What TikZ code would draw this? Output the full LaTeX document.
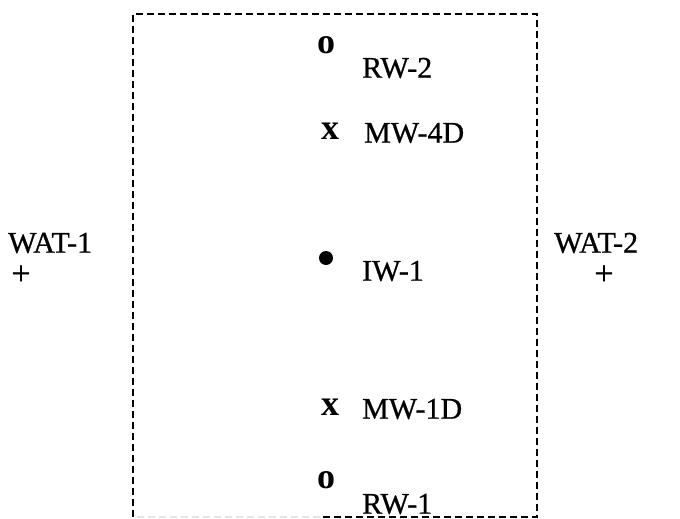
\documentclass[tikz,border=0pt]{standalone}
\usepackage{fontspec}
\setmainfont{Liberation Serif}
\newfontfamily\heavy{Liberation Serif}[FakeBold=0.8]
\begin{document}
\begin{tikzpicture}[x=1pt,y=-1pt,
  lbl/.style={anchor=west,inner sep=0pt,font=\heavy\fontsize{30}{33}\selectfont},
  mk/.style={anchor=center,inner sep=0pt,font=\bfseries\fontsize{36}{40}\selectfont},
  plus/.style={anchor=center,inner sep=0pt,font=\heavy\fontsize{34}{38}\selectfont},
  boxline/.style={line width=2.4pt,dash pattern=on 7pt off 4pt}]
\useasboundingbox (0,0) rectangle (680,519);
\coordinate (bl) at (133,517);
\coordinate (tl) at (133,14);
\coordinate (tr) at (537,14);
\coordinate (br) at (537,517);
\coordinate (bm) at (320,517);
\draw[boxline] (bl) -- (tl) -- (tr) -- (br) -- (bm);
\draw[boxline,black!10] (bm) -- (bl);
% markers
\node[mk] (o2) at (326,45) {o};
\node[mk] (x4) at (330,131) {x};
\fill (326,258) circle (7pt) node (d1) {};
\node[mk] (x1) at (330,407) {x};
\node[mk] (o1) at (326,480) {o};
% labels
\node[lbl] (rw2) at (362,68) {RW-2};
\node[lbl] (mw4) at (364,133) {MW-4D};
\node[lbl] (iw1) at (362,271) {IW-1};
\node[lbl] (mw1) at (362,409) {MW-1D};
\node[lbl] (rw1) at (362,504) {RW-1};
\node[lbl] (wat1) at (8,243) {WAT-1};
\node[lbl] (wat2) at (554,243) {WAT-2};
\node[plus] (p1) at (21,275) {+};
\node[plus] (p2) at (604,275) {+};
\end{tikzpicture}
\end{document}
